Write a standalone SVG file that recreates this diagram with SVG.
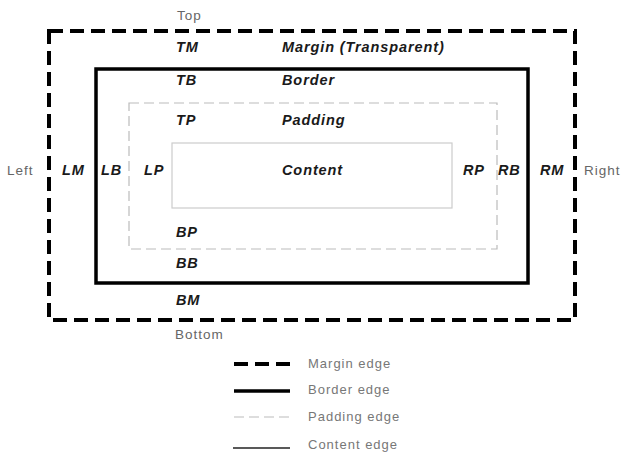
<svg xmlns="http://www.w3.org/2000/svg" width="625" height="453" viewBox="0 0 625 453">
<style>
.lbl{font-family:"Liberation Sans",Arial,sans-serif;font-size:14.5px;font-weight:bold;font-style:italic;fill:#1a1a1a;letter-spacing:0.9px}
.side{font-family:"Liberation Sans",Arial,sans-serif;font-size:13.5px;fill:#666;letter-spacing:1px}
.leg{font-family:"Liberation Sans",Arial,sans-serif;font-size:13px;fill:#777;letter-spacing:1px}
.margin{fill:none;stroke:#000;stroke-width:4;stroke-dasharray:14 7}
.border{fill:none;stroke:#000;stroke-width:3.5}
.padding{fill:none;stroke:#bbb;stroke-width:1.2;stroke-dasharray:10 5}
.content{fill:none;stroke:#ccc;stroke-width:1.2}
</style>
<g id="margin-box">
<rect class="margin" x="49" y="31" width="526" height="289"/>
<text class="side" x="177" y="20">Top</text>
<text class="side" x="175" y="339">Bottom</text>
<text class="side" x="7" y="175">Left</text>
<text class="side" x="584" y="175">Right</text>
<text class="lbl" x="176" y="52">TM</text>
<text class="lbl" x="282" y="52">Margin (Transparent)</text>
<text class="lbl" x="62" y="175">LM</text>
<text class="lbl" x="540" y="175">RM</text>
<text class="lbl" x="176" y="305">BM</text>
</g>
<g id="border-box">
<rect class="border" x="96" y="69" width="432" height="214"/>
<text class="lbl" x="176" y="85">TB</text>
<text class="lbl" x="282" y="85">Border</text>
<text class="lbl" x="101" y="175">LB</text>
<text class="lbl" x="498" y="175">RB</text>
<text class="lbl" x="176" y="268">BB</text>
</g>
<g id="padding-box">
<rect class="padding" x="129" y="103" width="368" height="146"/>
<text class="lbl" x="176" y="125">TP</text>
<text class="lbl" x="282" y="125">Padding</text>
<text class="lbl" x="144" y="175">LP</text>
<text class="lbl" x="463" y="175">RP</text>
<text class="lbl" x="176" y="237">BP</text>
</g>
<g id="content-box">
<rect class="content" x="172" y="143" width="280" height="65"/>
<text class="lbl" x="282" y="175">Content</text>
</g>
<g id="legend">
<line class="margin" x1="234" y1="364" x2="290" y2="364" stroke-width="3.5"/>
<text class="leg" x="308" y="368">Margin edge</text>
<line x1="234" y1="391" x2="290" y2="391" stroke="#000" stroke-width="3.5"/>
<text class="leg" x="308" y="394">Border edge</text>
<line class="padding" x1="234" y1="417" x2="290" y2="417"/>
<text class="leg" x="308" y="421">Padding edge</text>
<line x1="233" y1="448" x2="290" y2="448" stroke="#222" stroke-width="1.5"/>
<text class="leg" x="308" y="449">Content edge</text>
</g>
</svg>
